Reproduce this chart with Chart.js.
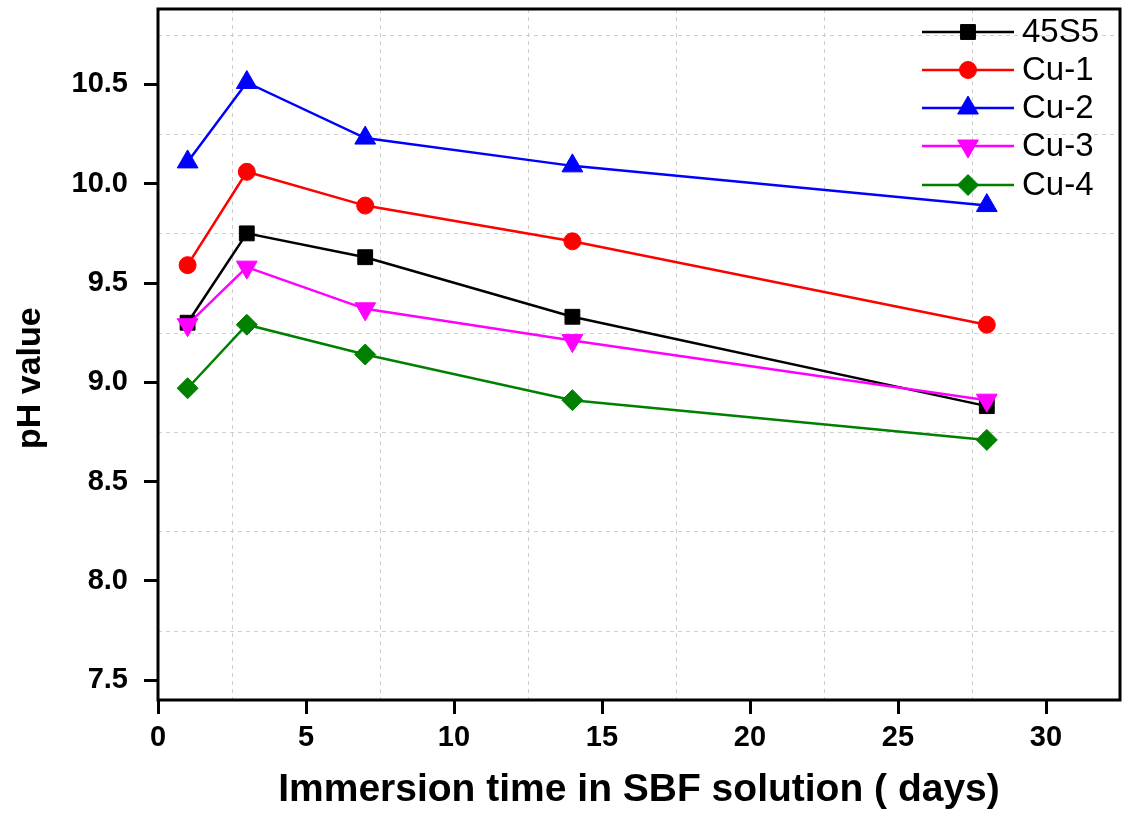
<!DOCTYPE html>
<html>
<head>
<meta charset="utf-8">
<script src="https://cdn.jsdelivr.net/npm/chart.js@4.4.1/dist/chart.umd.min.js"></script>
<style>
html, body { margin: 0; padding: 0; background: #fff; }
</style>
</head>
<body>
<canvas id="myChart" width="1123" height="814"></canvas>
<script>
// data
const days = [1, 3, 7, 14, 28];
const ph45S5 = [9.30, 9.75, 9.63, 9.33, 8.88];
const phCu1 = [9.59, 10.06, 9.89, 9.71, 9.29];
const phCu2 = [10.11, 10.51, 10.23, 10.09, 9.89];
const phCu3 = [9.29, 9.58, 9.37, 9.21, 8.91];
const phCu4 = [8.97, 9.29, 9.14, 8.91, 8.71];
const seriesNames = ['45S5', 'Cu-1', 'Cu-2', 'Cu-3', 'Cu-4'];
const xTicks = [0, 5, 10, 15, 20, 25, 30];
const yTicks = [7.5, 8.0, 8.5, 9.0, 9.5, 10.0, 10.5];
const xGridLines = [2.5, 7.5, 12.5, 17.5, 22.5, 27.5];
const yGridLines = [7.75, 8.25, 8.75, 9.25, 9.75, 10.25, 10.75];

const FONT = '"Liberation Sans", Arial, sans-serif';

function makeSet(label, values, color, style, radius, rotation, order) {
    return {
        label: label,
        data: values.map((v, i) => ({ x: days[i], y: v })),
        borderColor: color,
        backgroundColor: color,
        borderWidth: 2.5,
        pointStyle: style,
        pointRadius: radius,
        pointHoverRadius: radius,
        pointRotation: rotation,
        pointBorderWidth: 1,
        pointBackgroundColor: color,
        pointBorderColor: color,
        tension: 0,
        fill: false,
        order: order
    };
}

const datasets = [
    makeSet(seriesNames[0], ph45S5, '#000000', 'rect', 10.5, 0, 5),
    makeSet(seriesNames[1], phCu1, '#ff0000', 'circle', 8.5, 0, 4),
    makeSet(seriesNames[2], phCu2, '#0000ff', 'triangle', 12, 0, 3),
    makeSet(seriesNames[3], phCu3, '#ff00ff', 'triangle', 12, 180, 2),
    makeSet(seriesNames[4], phCu4, '#008000', 'rectRot', 10.5, 0, 1)
];

// dashed grid at half steps, frame around the plot, legend
const framePlugin = {
    id: 'frame',
    beforeDatasetsDraw(chart) {
        const { ctx, chartArea: a, scales } = chart;
        ctx.save();
        ctx.strokeStyle = '#cfcfcf';
        ctx.lineWidth = 1;
        ctx.setLineDash([4, 4]);
        xGridLines.forEach(v => {
            const px = Math.round(scales.x.getPixelForValue(v)) + 0.5;
            ctx.beginPath(); ctx.moveTo(px, a.top); ctx.lineTo(px, a.bottom); ctx.stroke();
        });
        yGridLines.forEach(v => {
            const py = Math.round(scales.y.getPixelForValue(v)) + 0.5;
            ctx.beginPath(); ctx.moveTo(a.left, py); ctx.lineTo(a.right, py); ctx.stroke();
        });
        ctx.restore();
    },
    afterDraw(chart) {
        const { ctx, chartArea: a } = chart;
        ctx.save();
        ctx.strokeStyle = '#000';
        ctx.lineWidth = 3;
        ctx.strokeRect(a.left, a.top, a.right - a.left, a.bottom - a.top);

        const x1 = 922, x2 = 1014, textX = 1022;
        const rowY = [32, 70, 108, 146, 185];
        ctx.font = '33px ' + FONT;
        ctx.textBaseline = 'middle';
        ctx.textAlign = 'left';
        datasets.forEach((ds, i) => {
            const y = rowY[i];
            ctx.strokeStyle = ds.borderColor;
            ctx.fillStyle = ds.borderColor;
            ctx.lineWidth = 2.5;
            ctx.beginPath(); ctx.moveTo(x1, y); ctx.lineTo(x2, y); ctx.stroke();
            ctx.lineWidth = 1;
            Chart.helpers.drawPoint(ctx, {
                pointStyle: ds.pointStyle,
                radius: ds.pointRadius,
                rotation: ds.pointRotation,
                borderWidth: 1
            }, (x1 + x2) / 2, y);
            ctx.fillStyle = '#000';
            ctx.fillText(ds.label, textX, y + 1);
        });
        ctx.restore();
    }
};

const ctx = document.getElementById('myChart').getContext('2d');
new Chart(ctx, {
    type: 'line',
    data: { datasets: datasets },
    options: {
        responsive: false,
        devicePixelRatio: 1,
        animation: false,
        layout: { autoPadding: false, padding: { top: 9, right: 3, left: 0, bottom: 0 } },
        plugins: { legend: { display: false }, tooltip: { enabled: false } },
        scales: {
            x: {
                type: 'linear',
                min: 0,
                max: 32.5,
                afterBuildTicks: s => { s.ticks = xTicks.map(v => ({ value: v })); },
                afterFit: s => { s.height = 114; s.paddingLeft = 0; s.paddingRight = 0; },
                border: { display: false },
                grid: { drawOnChartArea: false, drawTicks: true, tickLength: 14, tickWidth: 3, tickColor: '#000' },
                ticks: {
                    padding: 7,
                    color: '#000',
                    maxRotation: 0,
                    font: { family: FONT, size: 29, weight: 'bold' },
                    callback: v => String(v)
                },
                title: {
                    display: true,
                    text: 'Immersion time in SBF solution ( days)',
                    color: '#000',
                    padding: { top: 0, bottom: 0 },
                    font: { family: FONT, size: 39, weight: 'bold' }
                }
            },
            y: {
                type: 'linear',
                min: 7.4,
                max: 10.88,
                afterBuildTicks: s => { s.ticks = yTicks.map(v => ({ value: v })); },
                afterFit: s => { s.width = 158; s.paddingTop = 0; s.paddingBottom = 0; },
                border: { display: false },
                grid: { drawOnChartArea: false, drawTicks: true, tickLength: 14, tickWidth: 3, tickColor: '#000' },
                ticks: {
                    padding: 16,
                    color: '#000',
                    font: { family: FONT, size: 29, weight: 'bold' },
                    callback: v => v.toFixed(1)
                },
                title: {
                    display: true,
                    text: 'pH value     ',
                    color: '#000',
                    padding: { top: 10, bottom: 0 },
                    font: { family: FONT, size: 34, weight: 'bold' }
                }
            }
        }
    },
    plugins: [framePlugin]
});
</script>
</body>
</html>
